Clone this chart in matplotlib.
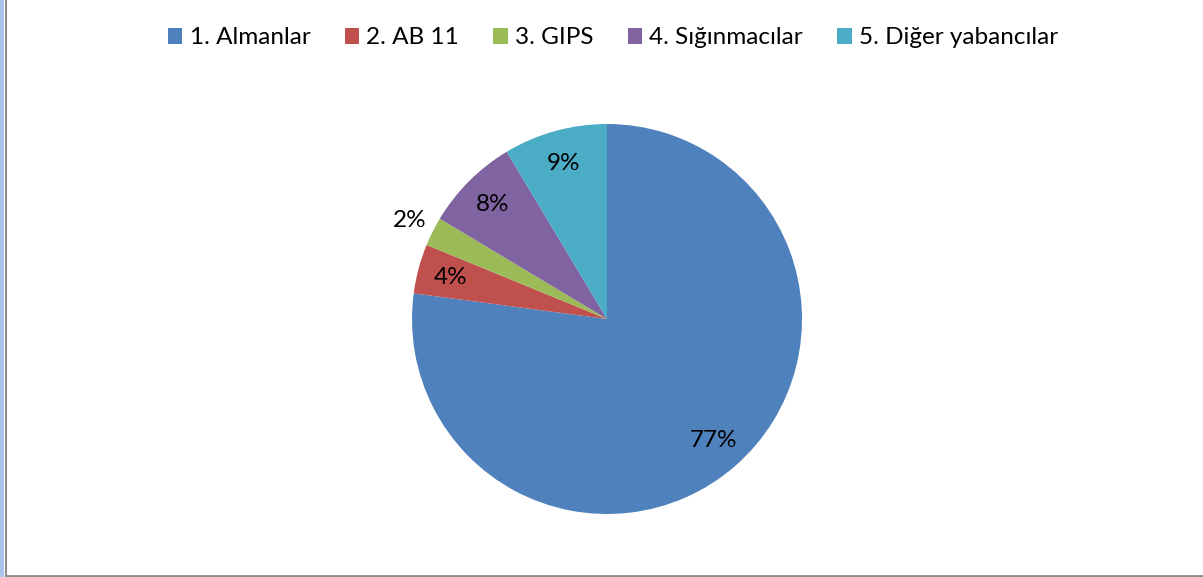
import matplotlib
matplotlib.use("Agg")
import matplotlib.pyplot as plt
from matplotlib.patches import Rectangle
from matplotlib.lines import Line2D

categories = ["1. Almanlar", "2. AB 11", "3. GIPS", "4. Sığınmacılar", "5. Diğer yabancılar"]
values = [77.1, 4.1, 2.4, 7.8, 8.6]
colors = ["#4F81BD", "#C0504D", "#9BBB59", "#8064A2", "#4BACC6"]

plt.rcParams['font.family'] = ['Lato', 'DejaVu Sans']

W, H = 1203, 577
fig = plt.figure(figsize=(W / 100, H / 100), dpi=100)
fig.patch.set_facecolor("white")

cx, cy, r = 607, 319, 195
ax = fig.add_axes([(cx - r) / W, 1 - (cy + r) / H, 2 * r / W, 2 * r / H])
wedges, texts, autotexts = ax.pie(
    values, colors=colors, startangle=90, counterclock=False,
    autopct=lambda p: f"{p:.0f}%", pctdistance=0.83,
    wedgeprops=dict(linewidth=0),
    textprops=dict(fontsize=17.5, color="black"))
# small slice label outside
t = autotexts[2]
x, y = t.get_position()
t.set_position((x * 1.13 / 0.83, y * 1.13 / 0.83))
ax.set_aspect("equal")
ax.set_xlim(-1, 1)
ax.set_ylim(-1, 1)

handles = [Rectangle((0, 0), 1, 1, facecolor=c, edgecolor="none") for c in colors]
fig.legend(handles, categories, loc="center", bbox_to_anchor=(613 / W, 1 - 38 / H),
           ncol=5, frameon=False, fontsize=17.5, handlelength=0.6, handleheight=0.6,
           handletextpad=0.3, columnspacing=1.4)

# frame edges
fig.add_artist(Rectangle((0, 0), 4 / W, 1, transform=fig.transFigure,
                         facecolor="#A9C4E8", edgecolor="none"))
fig.add_artist(Line2D([5.5 / W, 5.5 / W], [1.5 / H, 1], transform=fig.transFigure,
                      color="#8C8C8C", linewidth=1.5))
fig.add_artist(Line2D([5.5 / W, 1], [1.5 / H, 1.5 / H], transform=fig.transFigure,
                      color="#8C8C8C", linewidth=2))

fig.savefig("out.png", dpi=100)
